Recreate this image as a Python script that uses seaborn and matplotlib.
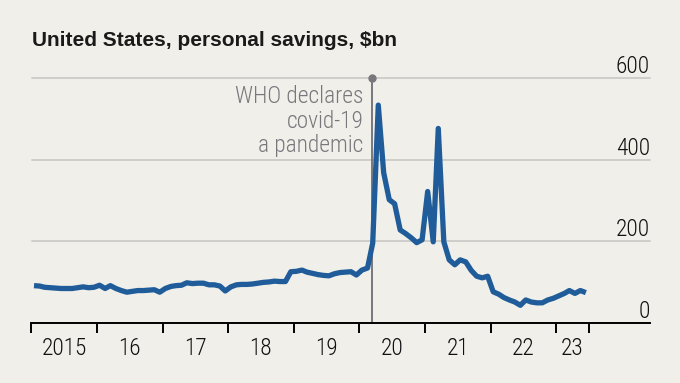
import pandas as pd
import matplotlib.pyplot as plt
import matplotlib.dates as mdates
from matplotlib import font_manager
import seaborn as sns

# epargne personnelle aux Etats-Unis, $bn, donnees mensuelles (janv 2015 - juin 2023)
sav_2015 = [92, 91, 88, 87, 86, 85, 85, 85, 87, 89, 87, 88]
sav_2016 = [93, 85, 92, 85, 80, 76, 78, 80, 80, 81, 82, 76]
sav_2017 = [85, 90, 92, 93, 99, 97, 98, 98, 94, 94, 91, 79]
sav_2018 = [89, 94, 95, 95, 96, 98, 100, 101, 103, 102, 102, 126]
sav_2019 = [127, 130, 125, 122, 119, 117, 116, 121, 124, 125, 126, 118]
sav_2020 = [130, 135, 196, 533, 368, 302, 292, 228, 219, 209, 197, 204]
sav_2021 = [322, 199, 476, 199, 155, 143, 155, 150, 129, 115, 111, 115]
sav_2022 = [77, 71, 63, 57, 52, 44, 57, 52, 50, 50, 57, 61]
sav_2023 = [67, 73, 80, 73, 80, 75]

premier_mois = "2015-01-01"
annees = list(range(2015, 2024))
annees_labels = ["2015", "16", "17", "18", "19", "20", "21", "22", "23"]
fin_axe_annees = "2023-07-01"
yticks = [0, 200, 400, 600]

who_date = "2020-03-11"
who_texte = "WHO declares\ncovid-19\na pandemic"
titre = "United States, personal savings, $bn"

fond = "#f0efea"
bleu = "#1f5c99"
gris = "#78777c"
grille = "#cfcecb"


def police_etroite():
    '''
    cherche une police condensee installee, sinon Liberation Sans
    '''
    dispo = {(f.name, str(f.stretch)) for f in font_manager.fontManager.ttflist}
    noms = {f.name for f in font_manager.fontManager.ttflist}
    for nom in ["Roboto Condensed", "Liberation Sans Narrow", "Open Sans Condensed",
                "Noto Sans Condensed", "DejaVu Sans Condensed"]:
        if nom in noms:
            return font_manager.FontProperties(family=nom, weight="light"), True
    for nom in ["Roboto", "DejaVu Sans", "Noto Sans", "Open Sans"]:
        for st in ["condensed", "semi-condensed", "75", "87"]:
            if (nom, st) in dispo:
                return font_manager.FontProperties(family=nom, stretch=st, weight="light"), True
    return font_manager.FontProperties(family="Liberation Sans"), False


fp, etroite = police_etroite()
taille = 16.8 if etroite else 15.5
fp.set_size(taille)

# construction de la dataframe
valeurs = sav_2015 + sav_2016 + sav_2017 + sav_2018 + sav_2019 + sav_2020 + sav_2021 + sav_2022 + sav_2023
dates = pd.date_range(premier_mois, periods=len(valeurs), freq="MS") + pd.Timedelta(days=14)
df = pd.DataFrame({"date": dates, "epargne": valeurs})

sns.set_style("white", {"axes.facecolor": fond, "figure.facecolor": fond})
plt.rcParams["font.family"] = ["Liberation Sans", "DejaVu Sans"]

fig = plt.figure(figsize=(6.8, 3.83), dpi=100)
ax = fig.add_axes([31.5 / 680, (383 - 323.3) / 383, (650 - 31.5) / 680, (323.3 - 77.7) / 383])

# ligne principale
sns.lineplot(data=df, x="date", y="epargne", ax=ax, color=bleu, linewidth=3.8, zorder=3,
             solid_capstyle="butt", solid_joinstyle="round")

# grille horizontale
for v in yticks[1:]:
    ax.axhline(v, color=grille, lw=1.4, zorder=0, clip_on=False)

# etiquettes de l'axe y (a droite, au-dessus des lignes)
for v in yticks:
    ax.text(1.0, v, str(v), transform=ax.get_yaxis_transform(), ha="right", va="bottom",
            fontproperties=fp, color="#111111")

ax.set_ylim(0, 600)
ax.set_yticks([])
ax.set_xlim(mdates.date2num(pd.Timestamp(premier_mois)), mdates.date2num(pd.Timestamp("2024-06-06")))

# ticks de l'axe x : debuts d'annee + milieu 2023, labels au milieu
debuts = [pd.Timestamp(f"{a}-01-01") for a in annees] + [pd.Timestamp(fin_axe_annees)]
milieux = [pd.Timestamp(f"{a}-07-01") for a in annees[:-1]] + [pd.Timestamp(f"{annees[-1]}-04-01")]
ax.set_xticks(mdates.date2num(debuts), labels=[""] * len(debuts))
ax.set_xticks(mdates.date2num(milieux), labels=annees_labels, minor=True)
ax.tick_params(axis="x", which="major", bottom=True, length=7.2, width=1.4, color="black",
               direction="out")
ax.tick_params(axis="x", which="minor", bottom=True, length=0, pad=9.6, labelcolor="#111111")
for lab in ax.get_xticklabels(minor=True):
    lab.set_fontproperties(fp)

for s in ["top", "left", "right"]:
    ax.spines[s].set_visible(False)
ax.spines["bottom"].set_color("black")
ax.spines["bottom"].set_linewidth(1.4)
ax.set_xlabel("")
ax.set_ylabel("")

# ligne OMS
who = mdates.date2num(pd.Timestamp(who_date))
ax.plot([who, who], [0, 600], color=gris, lw=1.4, zorder=2, clip_on=False)
ax.plot([who], [600], "o", ms=5, color=gris, zorder=2, clip_on=False)
ax.annotate(who_texte, xy=(who, 600), xytext=(-6.1, -5.3), textcoords="offset points",
            ha="right", va="top", multialignment="right", color=gris, fontproperties=fp,
            linespacing=1.08)

fig.text(31.5 / 680, 1 - 45.7 / 383, titre, ha="left", va="baseline", fontsize=15,
         fontweight="bold", color="#1a1a1a", family=["Liberation Sans", "DejaVu Sans"])

fig.savefig("out.png", dpi=100, facecolor=fond)
